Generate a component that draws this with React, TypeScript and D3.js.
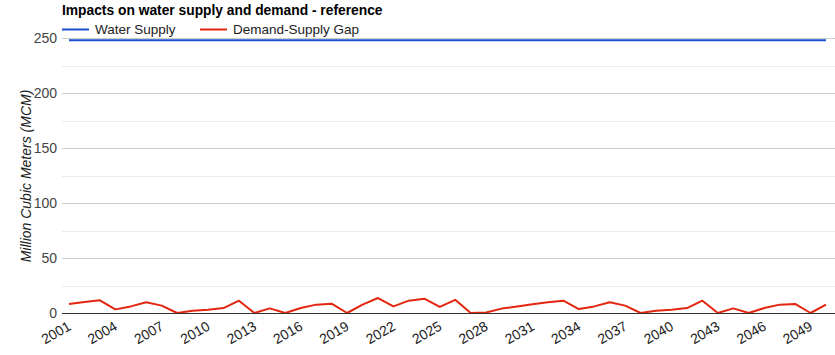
import React from "react";
import * as d3 from "d3";

const years: number[] = Array.from({ length: 50 }, (_, i) => 2001 + i);
const waterSupply: number[] = years.map(() => 248);
const gapValues: number[] = [
  8.2, 10, 11.5, 3.3, 6, 9.7, 6.7, 0, 2.1, 3,
  4.5, 11.2, 0, 4.2, 0, 4.5, 7.6, 8.5, 0, 7.6,
  13.6, 6, 11.2, 13, 5.5, 12, 0, 0.5, 4, 6,
  8, 9.7, 11.2, 3.6, 6, 9.7, 6.7, 0, 2.1, 3,
  4.5, 11.2, 0, 4.2, 0, 4.5, 7.6, 8.2, 0, 7.6,
];
const yTicks: number[] = [0, 50, 100, 150, 200, 250];
const yMinor: number[] = [25, 75, 125, 175, 225];
const xTickYears: number[] = [2001, 2004, 2007, 2010, 2013, 2016, 2019, 2022, 2025, 2028, 2031, 2034, 2037, 2040, 2043, 2046, 2049];
const title = "Impacts on water supply and demand - reference";
const seriesNames = ["Water Supply", "Demand-Supply Gap"];
const seriesColors = ["#1a4fcf", "#e3260f"];

export default function App() {
  const W = 835, H = 355;
  const plotLeft = 62, plotRight = 835;
  const x = d3.scaleLinear().domain([2001, 2050]).range([69, 826]);
  const y = d3.scaleLinear().domain([0, 250]).range([313, 38]);
  const line = d3.line<number>().x((_, i) => x(years[i])).y((d) => y(d));
  const font = "Arial, 'Liberation Sans', sans-serif";
  return (
    <svg width={W} height={H} style={{ position: "absolute", left: 0, top: 0, background: "#fff" }} fontFamily={font}>
      <text x={62} y={15} fontSize={13.8} fontWeight="bold" fill="#000">{title}</text>
      {/* legend */}
      <line x1={62} x2={89} y1={29.5} y2={29.5} stroke={seriesColors[0]} strokeWidth={2} />
      <text x={95} y={34} fontSize={13.5} fill="#222">{seriesNames[0]}</text>
      <line x1={200} x2={227} y1={29.5} y2={29.5} stroke={seriesColors[1]} strokeWidth={2} />
      <text x={233} y={34} fontSize={13.5} fill="#222">{seriesNames[1]}</text>
      {/* gridlines */}
      {yMinor.map((v) => (
        <line key={"m" + v} x1={plotLeft} x2={plotRight} y1={Math.round(y(v)) + 0.5} y2={Math.round(y(v)) + 0.5} stroke="#ebebeb" strokeWidth={1} />
      ))}
      {yTicks.filter((v) => v !== 0).map((v) => (
        <line key={"g" + v} x1={plotLeft} x2={plotRight} y1={Math.round(y(v)) + 0.5} y2={Math.round(y(v)) + 0.5} stroke="#cccccc" strokeWidth={1} />
      ))}
      {yTicks.map((v) => (
        <text key={"t" + v} x={57} y={y(v) + 5} fontSize={14} fill="#444" textAnchor="end">{v}</text>
      ))}
      <text transform={`translate(31,176) rotate(-90)`} fontSize={14} fontStyle="italic" fill="#222" textAnchor="middle">Million Cubic Meters (MCM)</text>
      {/* series */}
      <path d={line(waterSupply) || ""} fill="none" stroke={seriesColors[0]} strokeWidth={2} />
      <path d={line(gapValues) || ""} fill="none" stroke={seriesColors[1]} strokeWidth={2} strokeLinejoin="round" />
      {/* baseline */}
      <line x1={plotLeft} x2={plotRight} y1={313.5} y2={313.5} stroke="#333" strokeWidth={1} />
      {xTickYears.map((yr) => (
        <text key={"x" + yr} transform={`translate(${x(yr) + 3},${329}) rotate(-30)`} fontSize={14} fill="#222" textAnchor="end">{yr}</text>
      ))}
    </svg>
  );
}
